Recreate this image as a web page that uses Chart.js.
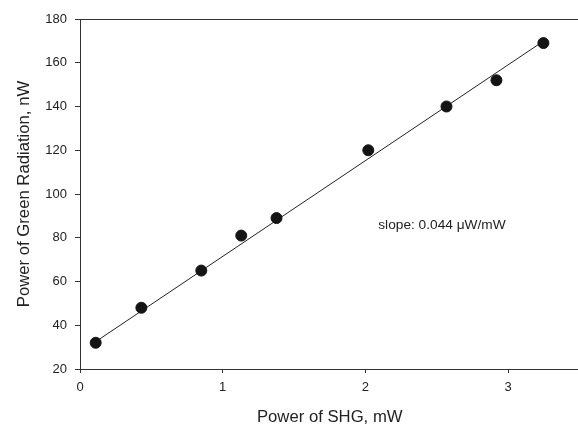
<!DOCTYPE html>
<html>
<head>
<meta charset="utf-8">
<script src="https://cdn.jsdelivr.net/npm/chart.js@4"></script>
<style>
html,body{margin:0;padding:0;background:#fff;overflow:hidden;width:578px;height:426px;}
canvas{display:block;}
</style>
</head>
<body>
<canvas id="c" width="586" height="426"></canvas>
<script>
// Data
const shgPower = [0.11, 0.43, 0.85, 1.13, 1.377, 2.02, 2.568, 2.918, 3.247];
const greenPower = [32, 48, 65, 81, 89, 120, 140, 152, 169];
const fitX = [0.11, 3.25];
const fitY = [32.5, 170];
const xTicks = [0, 1, 2, 3];
const yTicks = [20, 40, 60, 80, 100, 120, 140, 160, 180];
const xTitle = 'Power of SHG, mW';
const yTitle = 'Power of Green Radiation, nW';
const note = 'slope: 0.044 \u03BCW/mW';
const notePos = [2.09, 85.5];

const FONT = '"Liberation Sans", Arial, Helvetica, sans-serif';
const INK = '#222';
const AXIS = '#333';

const frame = {
  id: 'frame',
  afterDraw(chart) {
    const {ctx, chartArea: a, scales} = chart;
    ctx.save();
    ctx.strokeStyle = AXIS;
    ctx.lineWidth = 1;
    ctx.beginPath();
    ctx.moveTo(a.left, a.top + 0.5);
    ctx.lineTo(a.right, a.top + 0.5);
    ctx.stroke();
    ctx.fillStyle = INK;
    ctx.font = '13.7px ' + FONT;
    ctx.textAlign = 'left';
    ctx.textBaseline = 'middle';
    ctx.fillText(note, scales.x.getPixelForValue(notePos[0]), scales.y.getPixelForValue(notePos[1]));
    ctx.restore();
  }
};

new Chart(document.getElementById('c'), {
  type: 'scatter',
  data: {
    datasets: [
      {
        type: 'line',
        data: fitX.map((x, i) => ({x, y: fitY[i]})),
        borderColor: '#222',
        borderWidth: 1,
        pointRadius: 0,
        fill: false,
        tension: 0,
        order: 2
      },
      {
        data: shgPower.map((x, i) => ({x, y: greenPower[i]})),
        backgroundColor: '#141414',
        borderColor: '#141414',
        pointRadius: 5.5,
        pointHoverRadius: 5.5,
        order: 1
      }
    ]
  },
  options: {
    responsive: false,
    animation: false,
    devicePixelRatio: 1,
    layout: {padding: {top: 19, left: 0, right: 0, bottom: 0}},
    plugins: {legend: {display: false}, tooltip: {enabled: false}},
    scales: {
      x: {
        type: 'linear',
        min: 0,
        max: 3.5,
        afterBuildTicks: s => { s.ticks = xTicks.map(v => ({value: v})); },
        afterFit: s => { s.height = 57; s.paddingLeft = 0; s.paddingRight = 0; },
        border: {display: true, color: AXIS, width: 1},
        grid: {display: true, drawOnChartArea: false, drawTicks: true, tickLength: 4, color: AXIS},
        ticks: {color: INK, font: {family: FONT, size: 13}, padding: 7, maxRotation: 0},
        title: {display: true, text: xTitle, color: INK, font: {family: FONT, size: 16.7, lineHeight: 1.0}, padding: {top: 0, bottom: 0}}
      },
      y: {
        type: 'linear',
        min: 20,
        max: 180,
        afterBuildTicks: s => { s.ticks = yTicks.map(v => ({value: v})); },
        afterFit: s => { s.width = 80; s.paddingTop = 0; s.paddingBottom = 0; },
        border: {display: true, color: AXIS, width: 1},
        grid: {display: true, drawOnChartArea: false, drawTicks: true, tickLength: 5, color: AXIS},
        ticks: {color: INK, font: {family: FONT, size: 13}, padding: 8},
        title: {display: true, text: yTitle, color: INK, font: {family: FONT, size: 16.7, lineHeight: 1.2}, padding: {top: 14, bottom: 0}}
      }
    }
  },
  plugins: [frame]
});
</script>
</body>
</html>
